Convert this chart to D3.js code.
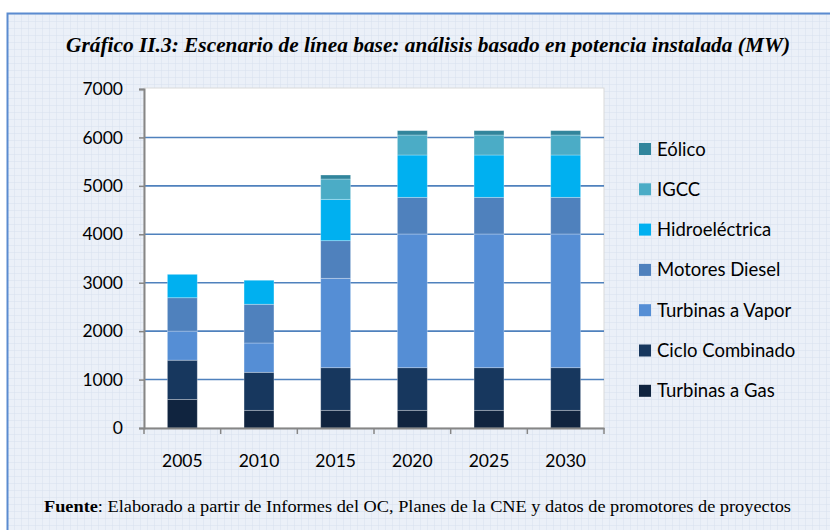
<!DOCTYPE html>
<html>
<head>
<meta charset="utf-8">
<script src="https://cdn.jsdelivr.net/npm/d3@7"></script>
<style>
  body { margin: 0; background: #fff; }
  svg { display: block; }
</style>
</head>
<body>
<svg id="svg" width="830" height="530"></svg>
<script>
// data (MW)
var years = ["2005", "2010", "2015", "2020", "2025", "2030"];
var series = ["Turbinas a Gas", "Ciclo Combinado", "Turbinas a Vapor",
  "Motores Diesel", "Hidroeléctrica", "IGCC", "Eólico"];
var turbinasGas   = [590, 365, 365, 365, 365, 365];
var cicloComb     = [810, 785, 880, 880, 880, 880];
var turbinasVapor = [600, 605, 1846, 2761, 2761, 2761];
var motoresDiesel = [690, 800, 777, 757, 757, 757];
var hidro         = [483, 496, 854, 874, 874, 874];
var igcc          = [0, 0, 419, 413, 413, 413];
var eolico        = [0, 0, 83, 90, 90, 90];
var yTicks = [0, 1000, 2000, 3000, 4000, 5000, 6000, 7000];
var colors = ["#10243f", "#17375e", "#558ed5", "#4f81bd", "#00b0f0", "#4bacc6", "#31859c"];

var cols = [turbinasGas, cicloComb, turbinasVapor, motoresDiesel, hidro, igcc, eolico];
var rows = years.map(function(y, i) {
  var r = {year: y};
  series.forEach(function(s, j) { r[s] = cols[j][i]; });
  return r;
});

var svg = d3.select("#svg");
var font = "Lato, Open Sans, sans-serif";

// graph-paper background
var defs = svg.append("defs");
var pat = defs.append("pattern")
  .attr("id", "grid").attr("width", 7).attr("height", 7)
  .attr("patternUnits", "userSpaceOnUse");
pat.append("rect").attr("width", 7).attr("height", 7).attr("fill", "#ebf0f8");
pat.append("path").attr("d", "M 7,0 L 0,0 0,7")
  .attr("fill", "none").attr("stroke", "#d7e0ee").attr("stroke-width", 1);
svg.append("rect").attr("x", 7).attr("y", 13).attr("width", 823).attr("height", 517)
  .attr("fill", "url(#grid)");
svg.append("path").attr("d", "M 7.5,530 L 7.5,13.5 L 830,13.5")
  .attr("fill", "none").attr("stroke", "#5b8bd0").attr("stroke-width", 2);

// title
svg.append("text")
  .attr("x", 428).attr("y", 52)
  .attr("text-anchor", "middle")
  .attr("font-family", "Liberation Serif, serif")
  .attr("font-weight", "bold").attr("font-style", "italic")
  .attr("font-size", 22)
  .attr("textLength", 724).attr("lengthAdjust", "spacingAndGlyphs")
  .text("Gráfico II.3: Escenario de línea base: análisis basado en potencia instalada (MW)");

var pLeft = 144, pRight = 604, pTop = 89, pBottom = 428;

var x = d3.scaleBand().domain(years).range([pLeft, pRight]).paddingInner(0.61).paddingOuter(0.305);
var y = d3.scaleLinear().domain([0, 7000]).range([pBottom, pTop]);

svg.append("rect").attr("x", pLeft).attr("y", pTop - 1)
  .attr("width", pRight - pLeft).attr("height", pBottom - pTop + 1)
  .attr("fill", "#fff").attr("stroke", "#d9d9d9").attr("stroke-width", 1);

// gridlines
svg.append("g").selectAll("line")
  .data(yTicks.filter(function(d) { return d > 0 && d < 7000; }))
  .join("line")
  .attr("x1", pLeft).attr("x2", pRight)
  .attr("y1", function(d) { return y(d); }).attr("y2", function(d) { return y(d); })
  .attr("stroke", "#4f81bd").attr("stroke-width", 1.6);

// bars
var stack = d3.stack().keys(series)(rows);
svg.append("g").selectAll("g")
  .data(stack)
  .join("g")
  .attr("fill", function(d, i) { return colors[i]; })
  .selectAll("rect")
  .data(function(d) { return d; })
  .join("rect")
  .attr("x", function(d) { return x(d.data.year); })
  .attr("width", x.bandwidth())
  .attr("y", function(d) { return y(d[1]); })
  .attr("height", function(d) { return y(d[0]) - y(d[1]); })
  .attr("stroke", "rgba(255,255,255,0.35)").attr("stroke-width", 0.8);

// y axis
var yAxis = svg.append("g")
  .attr("transform", "translate(" + pLeft + ",0)")
  .call(d3.axisLeft(y).tickValues(yTicks).tickSize(5).tickPadding(16).tickFormat(d3.format("d")));
yAxis.select(".domain").attr("stroke", "#868686").attr("stroke-width", 2);
yAxis.selectAll(".tick line").attr("stroke", "#868686").attr("stroke-width", 1.5);
yAxis.selectAll("text").attr("font-family", font)
  .attr("font-size", 17.5).attr("fill", "#000");

// x axis
var xAxis = svg.append("g")
  .attr("transform", "translate(0," + pBottom + ")")
  .call(d3.axisBottom(x).tickSize(0).tickPadding(27));
xAxis.select(".domain").attr("stroke", "#868686").attr("stroke-width", 2);
xAxis.selectAll("text").attr("font-family", font)
  .attr("font-size", 17.5).attr("fill", "#000");
// category separator ticks
svg.append("g").selectAll("line")
  .data(d3.range(years.length + 1))
  .join("line")
  .attr("x1", function(i) { return pLeft + i * x.step(); })
  .attr("x2", function(i) { return pLeft + i * x.step(); })
  .attr("y1", pBottom).attr("y2", pBottom + 6)
  .attr("stroke", "#868686").attr("stroke-width", 1.5);

// legend (top to bottom reversed)
var leg = svg.append("g").selectAll("g")
  .data(series.slice().reverse())
  .join("g")
  .attr("transform", function(d, i) { return "translate(639," + (149 + i * 40.3) + ")"; });
leg.append("rect").attr("x", 0).attr("y", -6).attr("width", 12).attr("height", 12)
  .attr("fill", function(d) { return colors[series.indexOf(d)]; });
leg.append("text").attr("x", 18).attr("y", 6.5)
  .attr("font-family", font).attr("font-size", 18.5)
  .text(function(d) { return d; });

// source note
var foot = svg.append("text")
  .attr("x", 44).attr("y", 512)
  .attr("font-family", "Liberation Serif, serif").attr("font-size", 16)
  .attr("textLength", 747).attr("lengthAdjust", "spacingAndGlyphs");
foot.append("tspan").attr("font-weight", "bold").text("Fuente");
foot.append("tspan").text(": Elaborado a partir de Informes del OC, Planes de la CNE y datos de promotores de proyectos");
</script>
</body>
</html>
